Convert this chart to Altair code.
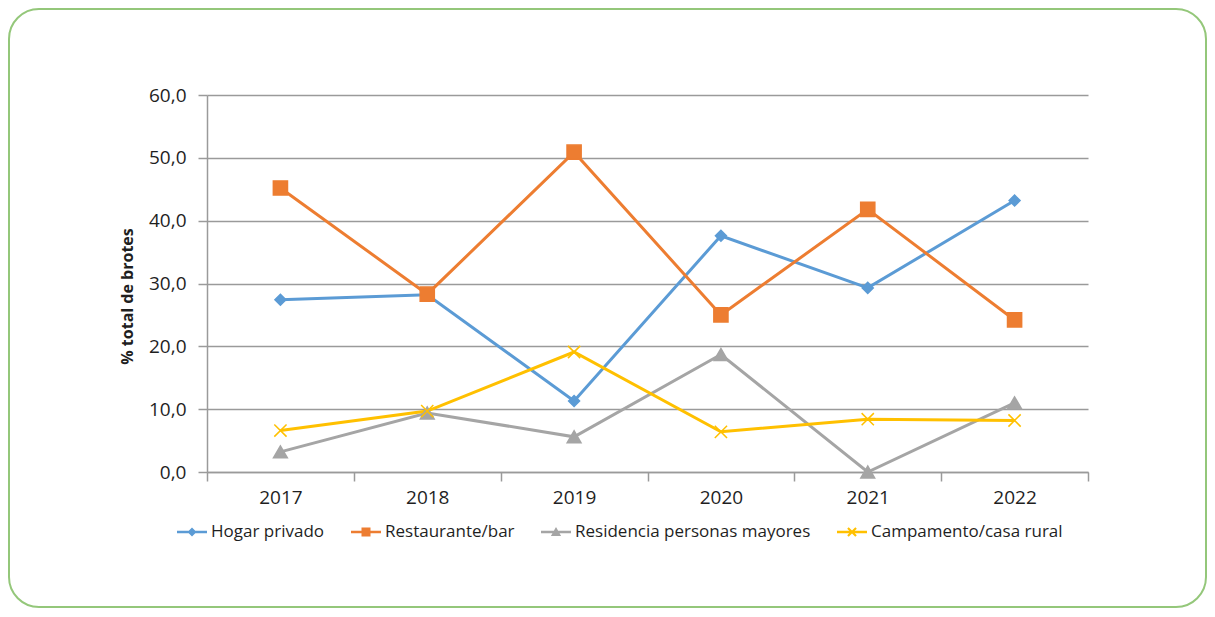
import altair as alt
import pandas as pd

years = ["2017", "2018", "2019", "2020", "2021", "2022"]
series_names = ["Hogar privado", "Restaurante/bar", "Residencia personas mayores", "Campamento/casa rural"]
hogar = [27.4, 28.2, 11.3, 37.6, 29.3, 43.2]
restaurante = [45.2, 28.3, 50.9, 25.0, 41.8, 24.2]
residencia = [3.2, 9.4, 5.6, 18.7, 0.0, 11.0]
campamento = [6.6, 9.7, 19.1, 6.4, 8.4, 8.2]
y_ticks = [0, 10, 20, 30, 40, 50, 60]

colors = ["#5B9BD5", "#ED7D31", "#A5A5A5", "#FFC000"]
shapes = ["diamond", "square", "triangle-up", "M-1,-1L1,1M-1,1L1,-1"]
sizes = [120, 200, 190, 150]

LINE = "M-1,-0.085L1,-0.085L1,0.085L-1,0.085Z"
legend_paths = [
    LINE + "M0,-0.3L0.3,0L0,0.3L-0.3,0Z",
    LINE + "M-0.3,-0.3L0.3,-0.3L0.3,0.3L-0.3,0.3Z",
    LINE + "M0,-0.34L0.34,0.27L-0.34,0.27Z",
    LINE + "M-0.22,-0.32L0.32,0.22L0.22,0.32L-0.32,-0.22Z"
         + "M-0.32,0.22L0.22,-0.32L0.32,-0.22L-0.22,0.32Z",
]

rows = []
for name, vals in zip(series_names, [hogar, restaurante, residencia, campamento]):
    for yr, v in zip(years, vals):
        rows.append({"year": yr, "series": name, "value": v})
df = pd.DataFrame(rows)

W, H = 881, 377
PADL, PADT = 199, 87
TOTW, TOTH = 1199, 601

FONT = "Open Sans"
TXT = "#1f1f1f"
AX = "#9a9a9a"

x_enc = alt.X(
    "year:O",
    sort=years,
    scale=alt.Scale(type="band", paddingInner=0, paddingOuter=0),
    bandPosition=0.5,
    axis=alt.Axis(
        title=None, labelAngle=0, tickBand="extent", grid=False,
        domainColor=AX, domainWidth=1.5, tickColor=AX, tickWidth=1.5, tickSize=9,
        labelPadding=7, labelFont=FONT, labelFontSize=19, labelColor=TXT,
    ),
)
y_enc = alt.Y(
    "value:Q",
    scale=alt.Scale(domain=[0, 60], nice=False, zero=True),
    axis=alt.Axis(
        values=y_ticks, labelExpr="replace(format(datum.value, '.1f'), '.', ',')",
        grid=True, gridColor=AX, gridWidth=1.5,
        domainColor=AX, domainWidth=1.5, tickColor=AX, tickWidth=1.5, tickSize=9,
        labelPadding=12, labelFont=FONT, labelFontSize=19, labelColor=TXT,
        title="% total de brotes", titleFont=FONT, titleFontSize=16, titleFontWeight="bold",
        titleColor=TXT, titleX=-72, titleY=201, titleAngle=-90,
    ),
)

base = alt.Chart(df)

frame = alt.Chart(pd.DataFrame({"k": [0]})).mark_rect(
    fill="transparent", stroke="#94C77A", strokeWidth=2, cornerRadius=30
).encode(
    x=alt.value(-PADL + 1), x2=alt.value(TOTW - PADL - 1),
    y=alt.value(-PADT + 1), y2=alt.value(TOTH - PADT - 2),
)

layers = [frame]
for name, col in zip(series_names, colors):
    layers.append(
        base.transform_filter(alt.datum.series == name)
        .mark_line(strokeWidth=3, color=col)
        .encode(x=x_enc, y=y_enc)
    )
for name, col, shp, sz in zip(series_names, colors, shapes, sizes):
    layers.append(
        base.transform_filter(alt.datum.series == name)
        .mark_point(filled=True, opacity=1, fill=col, stroke=col, strokeWidth=1.5, shape=shp, size=sz)
        .encode(x=x_enc, y=y_enc)
    )

legend = alt.Legend(
    orient="none", legendX=-30, legendY=422, direction="horizontal", title=None,
    labelFont=FONT, labelFontSize=17, labelColor=TXT, labelOffset=4,
    symbolSize=900, symbolOpacity=1, symbolStrokeWidth=0, columnPadding=26, labelLimit=400,
)
legend_layer = base.mark_point(filled=True, opacity=0).encode(
    x=x_enc, y=y_enc,
    color=alt.Color("series:N", scale=alt.Scale(domain=series_names, range=colors),
                    sort=series_names, legend=legend),
    shape=alt.Shape("series:N", scale=alt.Scale(domain=series_names, range=legend_paths),
                    sort=series_names, legend=legend),
)
layers.append(legend_layer)

chart = alt.layer(*layers).properties(
    width=W, height=H,
    autosize=alt.AutoSizeParams(type="none"),
    padding={"left": PADL, "top": PADT, "right": TOTW - PADL - W, "bottom": TOTH - PADT - H},
    background="white",
).configure_view(stroke=None)

chart.save("out.html", embed_options={"renderer": "svg", "actions": False})
